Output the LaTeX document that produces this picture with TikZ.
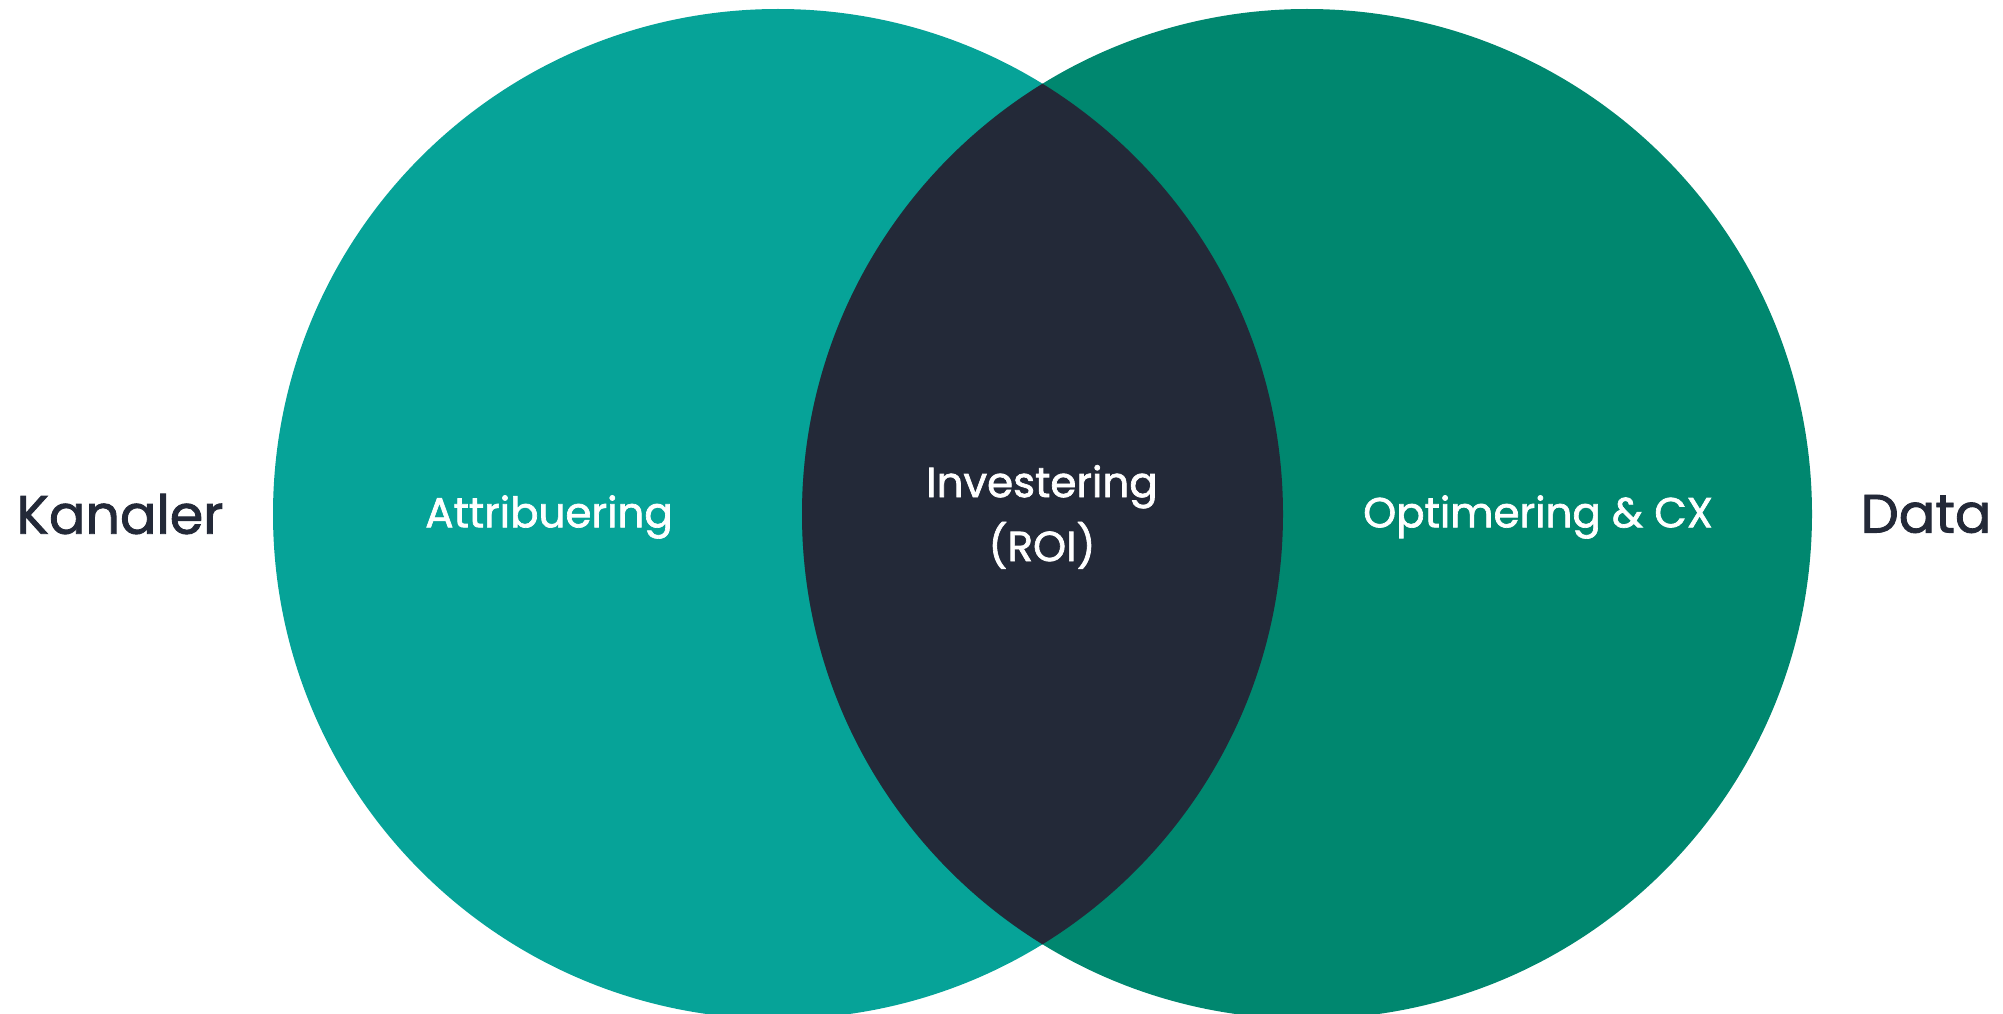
\documentclass[tikz,border=0pt]{standalone}
\usepackage{fontspec}
\setmainfont{Poppins}
\newfontfamily\semibold{Poppins}[FakeBold=1.6]
\usepackage{xcolor}
\usetikzlibrary{positioning}
\definecolor{tealL}{HTML}{06A398}
\definecolor{tealR}{HTML}{00876F}
\definecolor{navy}{HTML}{232938}

\begin{document}
\begin{tikzpicture}[x=1pt,y=-1pt,
    side/.style={text=navy,font=\semibold\fontsize{54}{60}\selectfont},
    inner/.style={text=white,font=\semibold\fontsize{42}{64}\selectfont,align=center}]
  \useasboundingbox (0,0) rectangle (2003,1014);
  \coordinate (cl) at (778,514);
  \coordinate (cr) at (1307,514);
  \fill[tealL] (cl) circle[radius=505];
  \fill[tealR] (cr) circle[radius=505];
  \begin{scope}
    \clip (cl) circle[radius=505];
    \fill[navy] (cr) circle[radius=505];
  \end{scope}
  \node[side] (kanaler) at (120,514) {Kanaler};
  \node[side] (data) at (1926,514) {Data};
  \node[inner] (attr) at (549,517) {Attribuering};
  \node[inner] (inv) at (1042,517) {Investering\\(ROI)};
  \node[inner] (opt) at (1538,517) {Optimering \& CX};
\end{tikzpicture}
\end{document}
